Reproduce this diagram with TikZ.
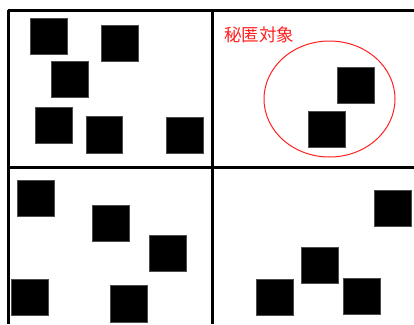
\documentclass[tikz,border=0pt]{standalone}
\usepackage{fontspec}
\newfontfamily\jpfont{Noto Sans CJK JP}
\usepackage{xcolor}
\definecolor{Secret}{HTML}{FF2020}
\usepackage{tikz}
\usetikzlibrary{positioning,shapes.geometric}

\begin{document}
\begin{tikzpicture}[x=1pt,y=-1pt,every node/.style={inner sep=0pt},blk/.style={fill=black,draw=black!70,line width=0.4pt,minimum size=36.5pt}]
\useasboundingbox (0,0) rectangle (414,324);
% grid
\draw[line width=3pt] (8,10) -- (414,10);
\draw[line width=3pt] (8,10) -- (8,324);
\draw[line width=3pt] (8,167) -- (414,167);
\draw[line width=3pt] (212,10) -- (212,324);
% top left
\node[blk] (a1) at (48.5,36) {};
\node[blk] (a2) at (119.5,43) {};
\node[blk] (a3) at (69.5,79) {};
\node[blk] (a4) at (53.5,125) {};
\node[blk] (a5) at (104,134.5) {};
\node[blk] (a6) at (184.5,135) {};
% top right
\node[anchor=west,text=Secret,font=\jpfont\fontsize{17.5}{20}\selectfont] (lbl) at (224,34.5) {秘匿対象};
\node[draw=Secret,line width=1pt,ellipse,minimum width=131pt,minimum height=116pt] (sec) at (329.5,99) {};
\node[blk] (b1) at (355.5,85) {};
\node[blk] (b2) at (326.5,129) {};
% bottom left
\node[blk] (c1) at (35.5,198) {};
\node[blk] (c2) at (110.5,223) {};
\node[blk] (c3) at (167.5,253) {};
\node[blk] (c4) at (29.5,297) {};
\node[blk] (c5) at (128.5,303.5) {};
% bottom right
\node[blk] (d1) at (392.5,208) {};
\node[blk] (d2) at (319.5,265) {};
\node[blk] (d3) at (274.5,297) {};
\node[blk] (d4) at (361.5,296) {};
\end{tikzpicture}
\end{document}
